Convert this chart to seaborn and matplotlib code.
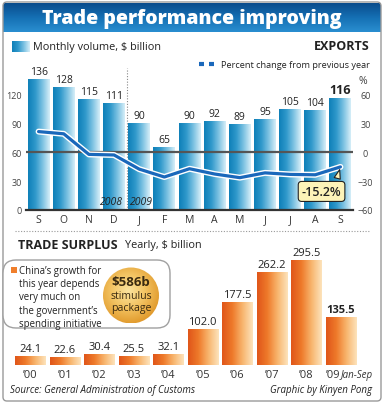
import numpy as np
import pandas as pd
import matplotlib
matplotlib.use('Agg')
import matplotlib.pyplot as plt
import seaborn as sns
import matplotlib.patheffects as pe
from matplotlib.colors import LinearSegmentedColormap
from matplotlib.patches import FancyBboxPatch, Circle, Rectangle
from matplotlib.lines import Line2D

# Exports: monthly volume ($ billion) and percent change from previous year
periods = ['Sep 08', 'Oct 08', 'Nov 08', 'Dec 08', 'Jan 09', 'Feb 09', 'Mar 09',
           'Apr 09', 'May 09', 'Jun 09', 'Jul 09', 'Aug 09', 'Sep 09']
month_labels = ['S', 'O', 'N', 'D', 'J', 'F', 'M', 'A', 'M', 'J', 'J', 'A', 'S']
exports = [136, 128, 115, 111, 90, 65, 90, 92, 89, 95, 105, 104, 116]
pct_change = [21.5, 19.2, -2.2, -2.8, -17.5, -25.7, -17.1, -22.6, -26.4, -21.4, -23.0, -23.4, -15.2]

# Trade surplus, yearly ($ billion)
years = ['\u201900', '\u201901', '\u201902', '\u201903', '\u201904',
         '\u201905', '\u201906', '\u201907', '\u201908', '\u201909']
surplus = [24.1, 22.6, 30.4, 25.5, 32.1, 102.0, 177.5, 262.2, 295.5, 135.5]

sns.set_theme(style='white')
plt.rcParams['font.family'] = ['Open Sans', 'DejaVu Sans']

W, H = 385, 406
fig = plt.figure(figsize=(W / 100, H / 100), dpi=100)
fig.patch.set_facecolor('white')


def fbox(x0, y0, x1, y1):
    # pixel box (top-left origin) -> figure rect
    return [x0 / W, 1 - y1 / H, (x1 - x0) / W, (y1 - y0) / H]


blue_cmap = LinearSegmentedColormap.from_list('b', ['#0f80b8', '#2f98cb', '#7cc2e2', '#d6eef8'])
orange_cmap = LinearSegmentedColormap.from_list('o', ['#e0561a', '#ee7a2a', '#f8b56e', '#fde3bb'])
line_blue = '#1a68bb'


def gradient_fill(ax, bars, cmap):
    grad = np.linspace(0, 1, 64).reshape(1, -1)
    for bar in bars:
        x0, y0 = bar.get_xy()
        w, h = bar.get_width(), bar.get_height()
        im = ax.imshow(grad, extent=[x0, x0 + w, y0, y0 + h], aspect='auto',
                       cmap=cmap, zorder=2, interpolation='bicubic')
        im.set_clip_path(bar)
        bar.set_facecolor('none')
        bar.set_edgecolor('none')


# ---- Top chart: exports ----
df_exp = pd.DataFrame({'period': periods, 'exports': exports, 'pct': pct_change})
ax = fig.add_axes(fbox(26, 71.5, 353, 211))
sns.barplot(data=df_exp, x='period', y='exports', ax=ax, width=0.87,
            color='#2f98cb', saturation=1)
gradient_fill(ax, list(ax.patches), blue_cmap)
ax.set_xlim(-0.5, 12.5)
ax.set_ylim(0, 145)
labels = ax.bar_label(ax.containers[0], labels=[str(v) for v in exports],
                      padding=1.5, fontsize=7.5, color='#222')
labels[-1].set_fontsize(9)
labels[-1].set_fontweight('bold')

ax.set_yticks([0, 30, 60, 90, 120])
ax.set_xticks(range(len(month_labels)))
ax.set_xticklabels(month_labels)
ax.tick_params(axis='y', length=0, pad=3, labelsize=6.5, labelcolor='#444')
ax.tick_params(axis='x', length=0, pad=3, labelsize=7.5, labelcolor='#333')
ax.set_xlabel('')
ax.set_ylabel('')
for s in ['top', 'left', 'right']:
    ax.spines[s].set_visible(False)
ax.spines['bottom'].set_color('#333')
ax.spines['bottom'].set_linewidth(1.6)
ax.patch.set_alpha(0)

ax.axvline(3.5, color='#888', ls=(0, (1, 1.5)), lw=0.8, ymax=1.02, clip_on=False, zorder=1)
ax.text(3.35, 9, '2008', ha='right', va='center', style='italic', fontsize=7.5, color='#222', zorder=5)
ax.text(3.65, 9, '2009', ha='left', va='center', style='italic', fontsize=7.5, color='#222', zorder=5)

ax2 = ax.twinx()
ax2.set_ylim(-60, 85)
ax2.axhline(0, color='#555', lw=1.6, zorder=1)
sns.lineplot(data=df_exp, x='period', y='pct', ax=ax2, sort=False, color=line_blue,
             lw=2.3, path_effects=[pe.Stroke(linewidth=4.3, foreground='white'), pe.Normal()])
ax2.set_xlim(-0.5, 12.5)
ax2.set_yticks([-60, -30, 0, 30, 60])
ax2.tick_params(axis='y', length=0, pad=9, labelsize=6.5, labelcolor='#444')
for lbl in ax2.get_yticklabels():
    lbl.set_ha('center')
ax2.set_ylabel('')
ax2.set_xlabel('')
for s in ax2.spines.values():
    s.set_visible(False)
ax2.annotate('-15.2%', xy=(len(periods) - 1, pct_change[-1]), xytext=(11.25, -40.7),
             ha='center', va='center', fontsize=9, fontweight='semibold', color='#222',
             bbox=dict(boxstyle='round,pad=0.28', fc='#fdf3b8', ec='#222', lw=0.8),
             arrowprops=dict(arrowstyle='wedge,tail_width=0.5,shrink_factor=0.5',
                             fc='#fdf3b8', ec='#222', lw=0.8, relpos=(0.85, 1.0)))

# ---- Bottom chart: trade surplus ----
df_sur = pd.DataFrame({'year': years, 'surplus': surplus})
axb = fig.add_axes(fbox(13, 256.3, 358, 366))
sns.barplot(data=df_sur, x='year', y='surplus', ax=axb, width=0.87,
            color='#ee7a2a', saturation=1)
gradient_fill(axb, list(axb.patches), orange_cmap)
axb.set_xlim(-0.5, 9.5)
axb.set_ylim(0, 310)
blabels = axb.bar_label(axb.containers[0], labels=['%.1f' % v for v in surplus],
                        padding=1.5, fontsize=8, color='#222')
blabels[-1].set_fontweight('bold')
axb.set_yticks([])
axb.tick_params(axis='x', length=0, pad=3, labelsize=8, labelcolor='#333')
axb.get_xticklabels()[-1].set_ha('right')
axb.set_xlabel('')
axb.set_ylabel('')
for s in axb.spines.values():
    s.set_visible(False)
axb.patch.set_alpha(0)
axb.text(len(years) - 1, -0.09, 'Jan-Sep', transform=axb.get_xaxis_transform(),
         ha='left', va='center', style='italic', fontsize=7, color='#333')

# ---- Overlay: title band, legends, notes ----
ov = fig.add_axes([0, 0, 1, 1], zorder=10)
ov.axis('off')
ov.patch.set_alpha(0)

title_cmap = LinearSegmentedColormap.from_list('t', ['#0a4c8c', '#1570b4', '#2a8ed0'])
ov.imshow(np.linspace(0, 1, 64).reshape(-1, 1), extent=[3, 381, 33, 4], aspect='auto',
          cmap=title_cmap, interpolation='bicubic', zorder=0)
ov.text(192, 19, 'Trade performance improving', color='white', fontsize=14,
        fontweight='heavy', ha='center', va='center')
ov.add_patch(FancyBboxPatch((3, 3), 378, 399, boxstyle='round,pad=0,rounding_size=4',
                            fc='none', ec='#9a9a9a', lw=1))

ov.imshow(np.linspace(0, 1, 64).reshape(1, -1), extent=[12, 30, 53, 42], aspect='auto',
          cmap=blue_cmap, interpolation='bicubic', zorder=2)
ov.text(33, 47.5, 'Monthly volume, $ billion', fontsize=7.8, va='center', color='#222')
ov.text(370, 47, 'EXPORTS', ha='right', va='center', fontweight='bold', fontsize=9, color='#222')
ov.add_line(Line2D([199, 214], [65, 65], color=line_blue, lw=3, ls=(0, (1.2, 1.2))))
ov.text(370, 65, 'Percent change from previous year', fontsize=6.6,
        ha='right', va='center', color='#222')
ov.text(363, 81, '%', fontsize=7.5, ha='center', va='center', color='#444')

ov.add_line(Line2D([15, 370], [232, 232], color='#999', ls=(0, (1, 1.5)), lw=0.8))
ov.text(18, 246, 'TRADE SURPLUS', fontsize=9, fontweight='bold', va='center', color='#222')
ov.text(125, 246, 'Yearly, $ billion', fontsize=7.8, va='center', color='#222')

ov.add_patch(FancyBboxPatch((3, 261), 167, 68, boxstyle='round,pad=0,rounding_size=13',
                            fc='white', ec='#a0a0a0', lw=1, zorder=1))
ov.add_patch(Rectangle((11, 267.5), 6, 6, fc='#f07f2c', ec='none', zorder=2))
ov.text(19, 266, 'China\u2019s growth for\nthis year depends\nvery much on\n'
        'the government\u2019s\nspending initiative',
        fontsize=6.9, va='top', ha='left', linespacing=1.28, color='#222', zorder=4)

circ = Circle((131, 296.5), 28, fc='none', ec='none', zorder=2)
ov.add_patch(circ)
gx, gy = np.meshgrid(np.linspace(-1, 1, 80), np.linspace(-1, 1, 80))
rad = np.sqrt((gx + 0.1) ** 2 + (gy + 0.15) ** 2)
gold_cmap = LinearSegmentedColormap.from_list('g', ['#fbe4a0', '#f3c463', '#e19a2c'])
im = ov.imshow(rad, extent=[103, 159, 324.5, 268.5], aspect='auto', cmap=gold_cmap,
               interpolation='bicubic', vmin=0, vmax=1.2, zorder=3)
im.set_clip_path(circ)
ov.text(131, 283, '$586b', fontsize=9.5, fontweight='bold', ha='center', va='center',
        color='#3a2a10', zorder=5)
ov.text(131, 297, 'stimulus', fontsize=7.6, ha='center', va='center',
        color='#3a2a10', zorder=5)
ov.text(131, 309, 'package', fontsize=7.6, ha='center', va='center',
        color='#3a2a10', zorder=5)

ov.text(10, 391, 'Source: General Administration of Customs', style='italic',
        fontsize=7, va='center', color='#222')
ov.text(372, 391, 'Graphic by Kinyen Pong', style='italic', fontsize=7,
        ha='right', va='center', color='#222')

ov.set_xlim(0, W)
ov.set_ylim(H, 0)

fig.savefig('out.png', dpi=100)
